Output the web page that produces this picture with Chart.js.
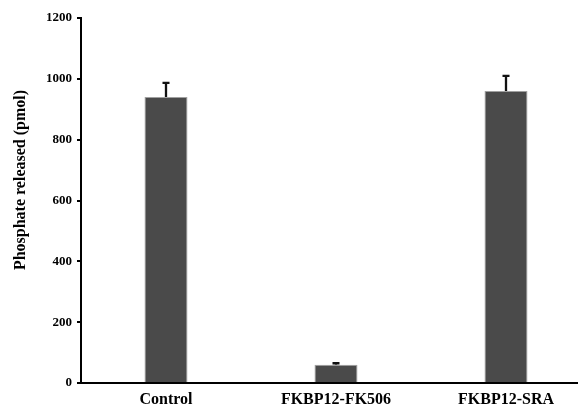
<!DOCTYPE html>
<html>
<head>
<meta charset="utf-8">
<script src="https://cdn.jsdelivr.net/npm/chart.js@4"></script>
<style>
  html, body { margin: 0; padding: 0; background: #fff; overflow: hidden; }
  #wrap { width: 600px; height: 409px; }
</style>
</head>
<body>
<div id="wrap"><canvas id="chart"></canvas></div>
<script>
const categories = ['Control', 'FKBP12-FK506', 'FKBP12-SRA'];
const phosphate = [940, 60, 960];
const errors = [47, 5, 50];
const yTicks = [0, 200, 400, 600, 800, 1000, 1200];
const yTitle = 'Phosphate released (pmol)';

const font = 'Liberation Serif, Times New Roman, serif';

// draws upward error bars on top of each bar
const errorBars = {
  id: 'errorBars',
  afterDatasetsDraw(chart) {
    const ctx = chart.ctx;
    const meta = chart.getDatasetMeta(0);
    const y = chart.scales.y;
    ctx.save();
    ctx.strokeStyle = '#111';
    ctx.lineWidth = 2.3;
    meta.data.forEach((bar, i) => {
      const top = y.getPixelForValue(phosphate[i] + errors[i]);
      ctx.beginPath();
      ctx.moveTo(bar.x, bar.y);
      ctx.lineTo(bar.x, top);
      ctx.moveTo(bar.x - 3.5, top);
      ctx.lineTo(bar.x + 3.5, top);
      ctx.stroke();
    });
    ctx.restore();
  }
};

// y axis title, placed a bit above the middle like the original
const sideTitle = {
  id: 'sideTitle',
  afterDraw(chart) {
    const ctx = chart.ctx;
    ctx.save();
    ctx.translate(21, 180);
    ctx.rotate(-Math.PI / 2);
    ctx.fillStyle = '#000';
    ctx.font = 'bold 16px ' + font;
    ctx.textAlign = 'center';
    ctx.textBaseline = 'middle';
    ctx.fillText(yTitle, 0, 0);
    ctx.restore();
  }
};

new Chart(document.getElementById('chart'), {
  type: 'bar',
  data: {
    labels: categories,
    datasets: [{
      data: phosphate,
      backgroundColor: '#4a4a4a',
      borderColor: '#a0a0a0',
      borderWidth: 1,
      barPercentage: 0.5,
      categoryPercentage: 0.506
    }]
  },
  options: {
    responsive: true,
    maintainAspectRatio: false,
    animation: false,
    layout: { padding: { left: 0, right: 9, top: 18, bottom: 0 } },
    plugins: { legend: { display: false }, tooltip: { enabled: false } },
    scales: {
      x: {
        grid: { display: false },
        border: { display: true, color: '#000', width: 2 },
        ticks: { color: '#000', padding: 1, font: { family: font, size: 16, weight: 'bold', lineHeight: 1 } },
        afterFit(s) { s.height = 26; }
      },
      y: {
        min: 0,
        max: 1200,
        afterBuildTicks(s) { s.ticks = yTicks.map(v => ({ value: v })); },
        grid: { drawOnChartArea: false, drawTicks: true, tickLength: 4, color: '#000', lineWidth: 2 },
        border: { display: true, color: '#000', width: 2 },
        ticks: {
          color: '#000',
          padding: 5,
          font: { family: font, size: 13, weight: 'bold' },
          callback: v => String(v)
        },
        afterFit(s) { s.width = 81; }
      }
    }
  },
  plugins: [errorBars, sideTitle]
});
</script>
</body>
</html>
